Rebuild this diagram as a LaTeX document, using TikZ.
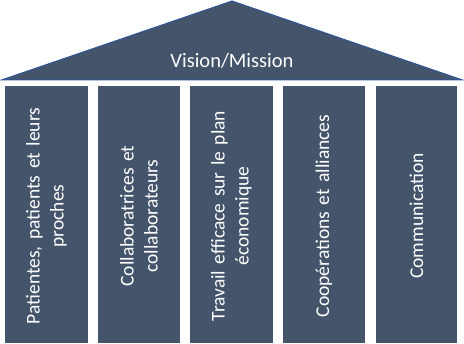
\documentclass[tikz,border=0pt]{standalone}
\usepackage{fontspec}
\setmainfont{Carlito}
\definecolor{slate}{HTML}{44546A}
\definecolor{roofline}{HTML}{2F5597}
\begin{document}
\begin{tikzpicture}[
    x=1pt, y=-1pt,
    roof/.style={fill=slate, draw=roofline, line width=1pt, line join=miter},
    pillar/.style={fill=slate, draw=none},
    label/.style={rotate=90, text=white, align=center, text width=250pt, font=\fontsize{19.5}{24}\selectfont, inner sep=0pt}
]
\useasboundingbox (0,0) rectangle (464,344);

% Roof
\coordinate (apex) at (232,1);
\coordinate (eaveL) at (1.5,80);
\coordinate (eaveR) at (462.5,80);
\draw[roof] (eaveL) -- (apex) -- (eaveR) -- cycle;
\node[text=white, font=\fontsize{20.5}{24}\selectfont] (vision) at (232,61) {Vision/Mission};

% Pillars
\foreach \name/\xa/\xb/\txt in {
    p1/5/88/{Patientes, patients et leurs\\proches},
    p2/98/180/{Collaboratrices et\\collaborateurs},
    p3/190/273/{Travail efficace sur le plan\\économique},
    p4/283/365/{Coopérations et alliances},
    p5/376/457/{Communication}}{
  \fill[pillar] (\xa,86) rectangle (\xb,343);
  \node[label] (\name) at ({(\xa+\xb)/2},216) {\txt};
}

\end{tikzpicture}
\end{document}
